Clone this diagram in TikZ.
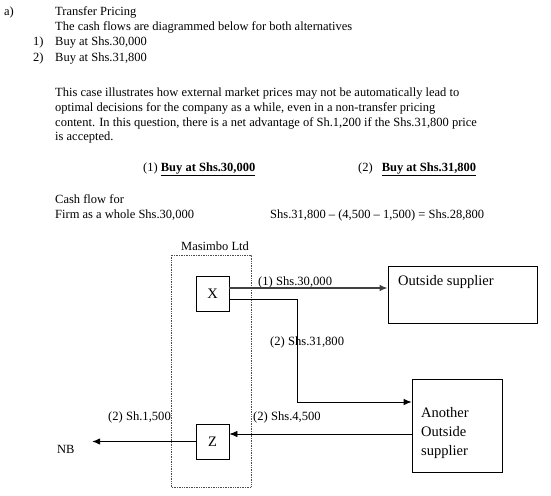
\documentclass[tikz,border=0pt]{standalone}
\usepackage{fontspec}
\setmainfont{Liberation Serif}
\usetikzlibrary{arrows.meta}
\begin{document}
\begin{tikzpicture}[x=1pt,y=-1pt,
  txt/.style={anchor=base west,inner sep=0pt,font=\fontsize{12.5}{15}\selectfont},
  lbl/.style={anchor=base west,inner sep=0pt,font=\fontsize{12.6}{15}\selectfont},
  boxtxt/.style={anchor=base west,inner sep=0pt,font=\fontsize{14.5}{18}\selectfont},
  sbox/.style={draw,line width=0.8pt,minimum width=33pt,minimum height=35pt,inner sep=0pt,font=\fontsize{14.5}{18}\selectfont},
  bigbox/.style={draw,line width=0.8pt,inner sep=0pt},
  flow/.style={line width=0.8pt,-{Latex[length=8pt,width=6.5pt]}},
  flowthick/.style={line width=1.4pt,draw=black!75,-{Latex[length=8pt,width=6.5pt]}},
  plain/.style={line width=0.8pt}]
\useasboundingbox (0,0) rectangle (551,495);
% text
\node[txt] (ta) at (4,16) {a)};
\node[txt] (t1) at (55,16) {Transfer Pricing};
\node[txt] (t2) at (55,31) {The cash flows are diagrammed below for both alternatives};
\node[txt] (t3n) at (33,46) {1)};
\node[txt] (t3) at (55,46) {Buy at Shs.30,000};
\node[txt] (t4n) at (33,61) {2)};
\node[txt] (t4) at (55,61) {Buy at Shs.31,800};
\node[txt] (p1) at (55,96) {This case illustrates how external market prices may not be automatically lead to};
\node[txt] (p2) at (55,111) {optimal decisions for the company as a while, even in a non-transfer pricing};
\node[txt] (p3) at (55,126) {content. In this question, there is a net advantage of Sh.1,200 if the Shs.31,800 price};
\node[txt] (p4) at (55,140) {is accepted.};
\node[txt] (h1) at (143,171) {(1) \textbf{\underline{Buy at Shs.30,000}}};
\node[txt] (h2) at (358,171) {(2)\hspace{9pt}\textbf{\underline{Buy at Shs.31,800}}};
\node[txt] (c1) at (55,203) {Cash flow for};
\node[txt] (c2) at (55,218) {Firm as a whole Shs.30,000};
\node[txt] (c3) at (270,218) {Shs.31,800 -- (4,500 -- 1,500) = Shs.28,800};
\node[txt] (ml) at (181,250) {Masimbo Ltd};
% dotted company boundary
\draw[densely dotted,line width=0.7pt,draw=black!70] (171,255) rectangle (251,487);
% boxes
\node[sbox] (X) at (212.5,293.5) {X};
\node[sbox] (Z) at (212.5,441.5) {Z};
\node[bigbox,minimum width=149pt,minimum height=57pt] (OS) at (462.5,294.5) {};
\node[boxtxt] (ost) at (398,285) {Outside supplier};
\node[bigbox,minimum width=90pt,minimum height=93pt] (AS) at (457,425.5) {};
\node[boxtxt] (as1) at (421,417) {Another};
\node[boxtxt] (as2) at (421,436) {Outside};
\node[boxtxt] (as3) at (421,455) {supplier};
\node[txt] (nb) at (57,453) {NB};
% labels
\node[lbl] (l1) at (258,285) {(1) Shs.30,000};
\node[lbl] (l2) at (270,345) {(2) Shs.31,800};
\node[lbl] (l3) at (108,420) {(2) Sh.1,500};
\node[lbl] (l4) at (253,420) {(2) Shs.4,500};
% connectors
\coordinate (bend) at (297,402);
\coordinate (nbend) at (92,442);
\draw[flowthick] ([yshift=5.5pt]X.east) -- ([yshift=5.5pt]X.east -| OS.west);
\draw[plain] ([yshift=-5.5pt]X.east) -| (bend);
\draw[flow] (bend) -- (bend -| AS.west);
\draw[flow] ([yshift=7.5pt]Z.east -| AS.west) -- ([yshift=7.5pt]Z.east);
\draw[flowthick,line width=1.3pt,draw=black] (Z.west) -- (Z.west -| nbend);
\end{tikzpicture}
\end{document}
